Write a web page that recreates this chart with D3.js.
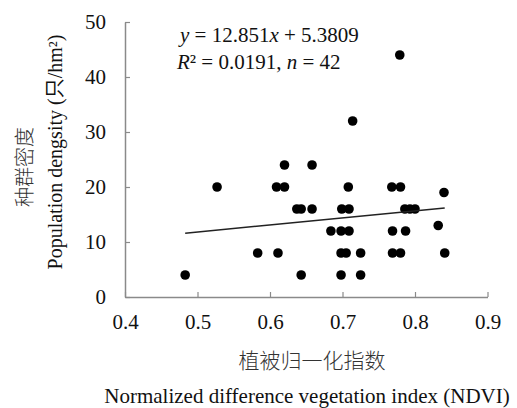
<!DOCTYPE html>
<html>
<head>
<meta charset="utf-8">
<title>NDVI vs population density</title>
<script src="https://cdn.jsdelivr.net/npm/d3@7"></script>
<style>
    body { margin: 0; background: #fff; }
    svg text { font-family: "Liberation Serif", "Times New Roman", "Noto Sans CJK SC", serif; fill: #111; }
    .cn { font-family: "Noto Sans CJK SC", sans-serif; font-weight: 300; fill: #333; }
</style>
</head>
<body>
<script>
// NDVI values grouped by density row
var ndvi = [0.779, 0.714, 0.620, 0.658,
    0.527, 0.609, 0.620, 0.708, 0.768, 0.780,
    0.840,
    0.637, 0.643, 0.658, 0.699, 0.709, 0.786, 0.793, 0.800,
    0.832,
    0.684, 0.698, 0.709, 0.769, 0.787,
    0.583, 0.611, 0.698, 0.705, 0.725, 0.769, 0.780, 0.841,
    0.483, 0.643, 0.698, 0.725];
var density = [44, 32, 24, 24,
    20, 20, 20, 20, 20, 20,
    19,
    16, 16, 16, 16, 16, 16, 16, 16,
    13,
    12, 12, 12, 12, 12,
    8, 8, 8, 8, 8, 8, 8, 8,
    4, 4, 4, 4];
var xTicks = [0.4, 0.5, 0.6, 0.7, 0.8, 0.9];
var yTicks = [0, 10, 20, 30, 40, 50];
var slope = 12.851, intercept = 5.3809;

var width = 517, height = 408;
var svg = d3.select("body").append("svg")
    .attr("width", width)
    .attr("height", height);

var x = d3.scaleLinear().domain([0.4, 0.9]).range([125, 487.5]);
var y = d3.scaleLinear().domain([0, 50]).range([297, 22]);
var axisColor = "#8a8a8a";

// axes
var xAxis = svg.append("g")
    .attr("transform", "translate(0," + y(0) + ")")
    .call(d3.axisBottom(x).tickValues(xTicks).tickSizeInner(-5).tickSizeOuter(0).tickPadding(17).tickFormat(d3.format(".1f")));
var yAxis = svg.append("g")
    .attr("transform", "translate(" + x(0.4) + ",0)")
    .call(d3.axisLeft(y).tickValues(yTicks).tickSizeInner(-5).tickSizeOuter(0).tickPadding(19));
[xAxis, yAxis].forEach(function (g) {
    g.attr("font-family", null).attr("font-size", null);
    g.select(".domain").attr("stroke", axisColor).attr("stroke-width", 1.5);
    g.selectAll(".tick line").attr("stroke", axisColor).attr("stroke-width", 1.2);
    g.selectAll(".tick text")
        .style("font-family", "'Liberation Serif', 'Times New Roman', serif")
        .style("font-size", "21px").style("fill", "#111");
});
xAxis.selectAll(".tick text").attr("dy", "0.71em");

// points
svg.append("g").selectAll("circle")
    .data(ndvi)
    .enter().append("circle")
    .attr("cx", function (d) { return x(d); })
    .attr("cy", function (d, i) { return y(density[i]); })
    .attr("r", 4.8)
    .attr("fill", "#000");

// fit line
var xr = d3.extent(ndvi);
svg.append("line")
    .attr("x1", x(xr[0])).attr("y1", y(slope * xr[0] + intercept))
    .attr("x2", x(xr[1])).attr("y2", y(slope * xr[1] + intercept))
    .attr("stroke", "#222").attr("stroke-width", 1.5);

// equation
var eq = svg.append("text").attr("x", 180).attr("y", 42).attr("font-size", 21);
eq.append("tspan").attr("font-style", "italic").text("y");
eq.append("tspan").text(" = 12.851");
eq.append("tspan").attr("font-style", "italic").text("x");
eq.append("tspan").text(" + 5.3809");
var r2 = svg.append("text").attr("x", 177).attr("y", 69).attr("font-size", 21);
r2.append("tspan").attr("font-style", "italic").text("R");
r2.append("tspan").text("² = 0.0191, ");
r2.append("tspan").attr("font-style", "italic").text("n");
r2.append("tspan").text(" = 42");

// axis titles
svg.append("text").attr("class", "cn")
    .attr("x", 312).attr("y", 368)
    .attr("text-anchor", "middle").attr("font-size", 21)
    .text("植被归一化指数");
svg.append("text")
    .attr("x", 307).attr("y", 403)
    .attr("text-anchor", "middle").attr("font-size", 21)
    .text("Normalized difference vegetation index (NDVI)");
svg.append("text").attr("class", "cn")
    .attr("transform", "translate(32,167) rotate(-90)")
    .attr("text-anchor", "middle").attr("font-size", 20)
    .text("种群密度");
svg.append("text")
    .attr("transform", "translate(62,152) rotate(-90)")
    .attr("text-anchor", "middle").attr("font-size", 20)
    .text("Population dengsity (只/hm²)");
</script>
</body>
</html>
